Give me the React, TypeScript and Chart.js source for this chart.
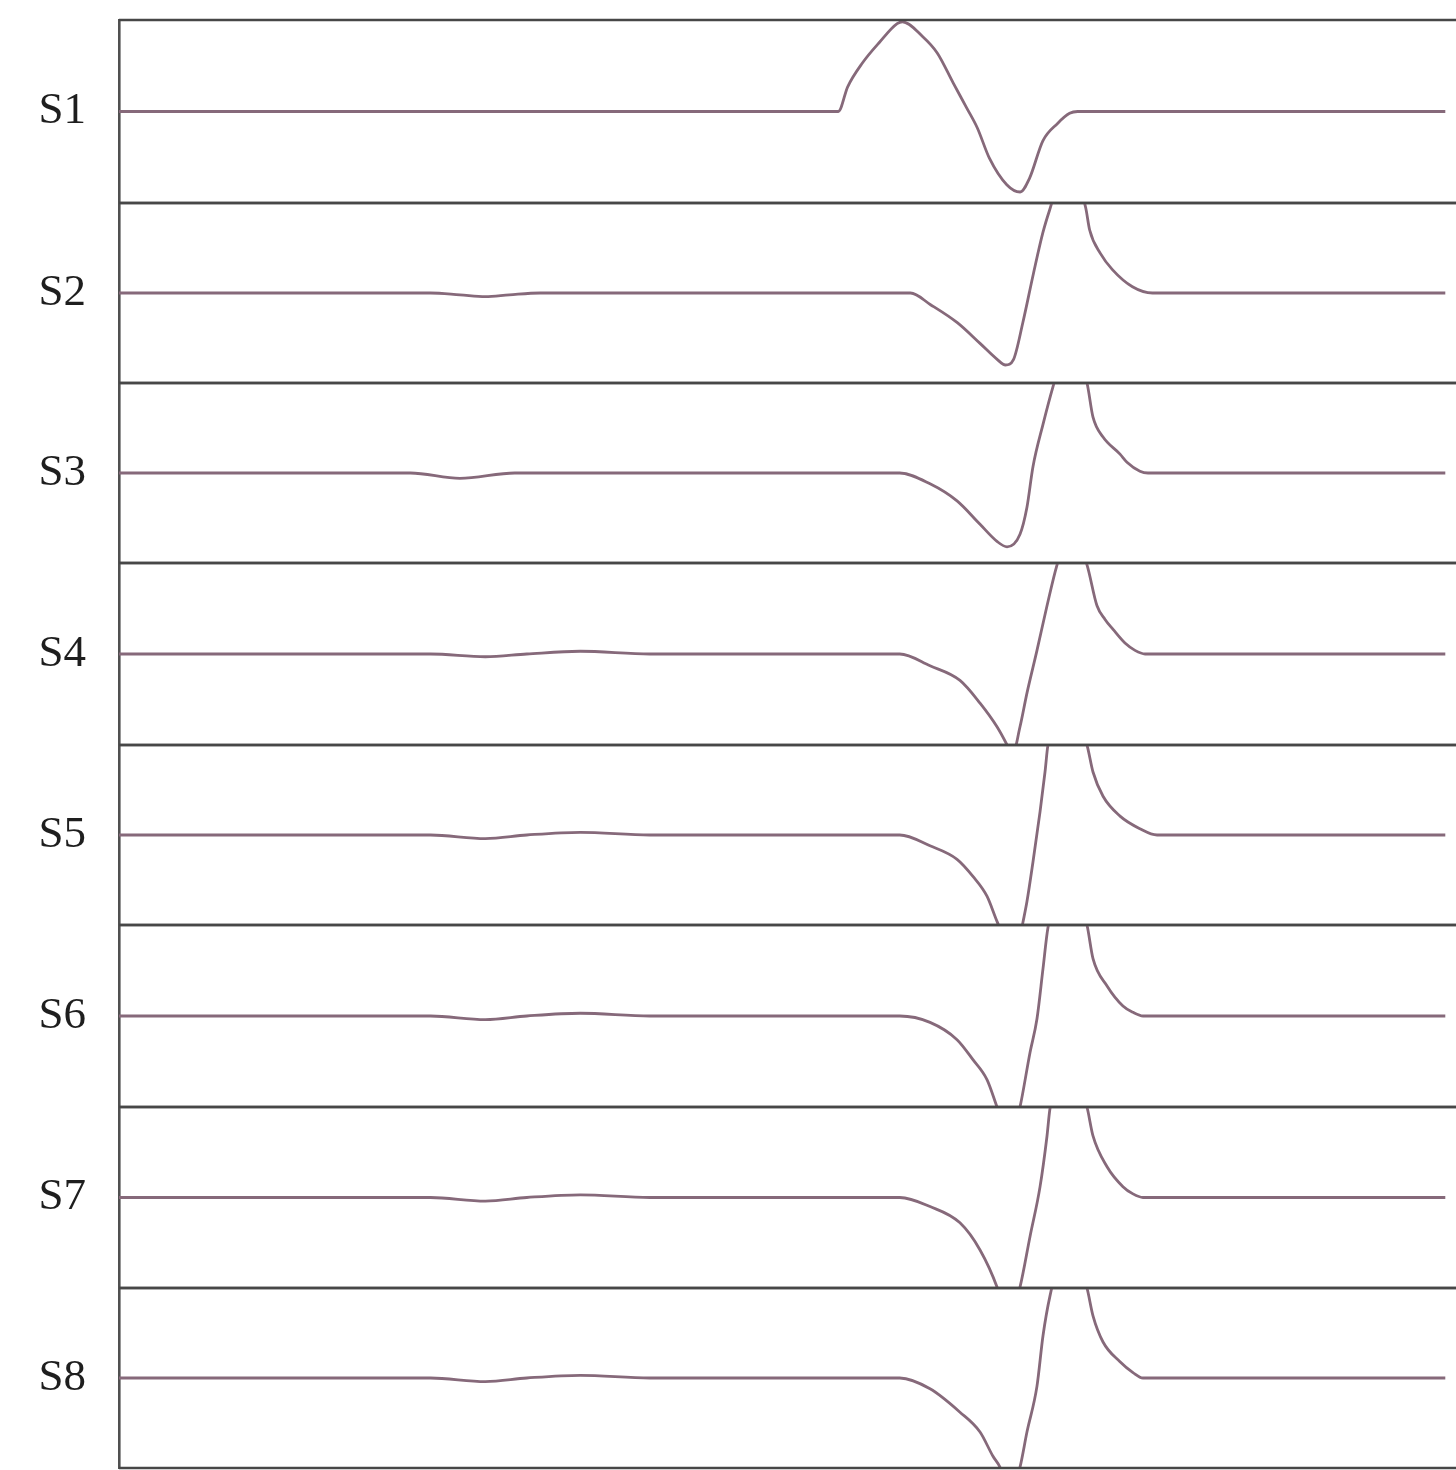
import React, { useEffect, useRef } from "react";
import { Chart, registerables } from "chart.js";

Chart.register(...registerables);

// ---- Data (time in % of sweep, amplitude in panel half-heights) ----
const LABELS = ["S1", "S2", "S3", "S4", "S5", "S6", "S7", "S8"];

const S1_T = [0, 53.8, 54.5, 55.6, 56.9, 58.2, 58.6, 60.1, 61.2, 62.4, 63.4, 64.2, 65.1, 66.4, 67.4, 68.1, 69.1, 70.2, 71.1, 71.7, 99.2];
const S1_V = [0, 0, 0.27, 0.53, 0.76, 0.96, 0.98, 0.82, 0.64, 0.31, 0.04, -0.18, -0.51, -0.8, -0.88, -0.73, -0.32, -0.13, -0.02, 0, 0];

const S2_T = [0, 23.3, 25.5, 27.4, 29.2, 31.5, 59.2, 60.7, 62.7, 64.4, 65.7, 66.3, 66.9, 67.6, 68.4, 69.1, 69.6, 71.0, 72.3, 72.6, 73.4, 74.3, 75.8, 77.3, 99.2];
const S2_V = [0, 0, -0.02, -0.04, -0.02, 0, 0, -0.13, -0.33, -0.56, -0.74, -0.8, -0.74, -0.33, 0.22, 0.67, 0.92, 1.5, 0.95, 0.7, 0.44, 0.26, 0.07, 0, 0];

const S3_T = [0, 21.8, 25.5, 29.6, 58.4, 60.66, 62.68, 64.4, 65.67, 66.42, 67.39, 67.91, 68.36, 69.11, 69.86, 71.0, 72.4, 72.85, 73.6, 74.87, 75.39, 76.36, 76.96, 99.2];
const S3_V = [0, 0, -0.06, 0, 0, -0.12, -0.31, -0.57, -0.76, -0.82, -0.68, -0.38, 0.07, 0.54, 0.96, 1.5, 1.0, 0.62, 0.4, 0.21, 0.12, 0.02, 0, 0];

const S4_T = [0, 23.3, 27.4, 30.5, 34.5, 39.7, 58.4, 60.66, 62.9, 64.4, 65.67, 66.42, 66.8, 67.39, 67.91, 68.66, 69.41, 70.16, 71.2, 72.4, 73.15, 73.75, 74.35, 75.24, 75.99, 76.74, 99.2];
const S4_V = [0, 0, -0.03, 0, 0.03, 0, 0, -0.13, -0.29, -0.54, -0.8, -1.0, -1.12, -0.8, -0.43, 0.04, 0.53, 0.98, 1.4, 0.98, 0.53, 0.38, 0.27, 0.12, 0.04, 0, 0];

const S5_T = [0, 23.3, 27.4, 30.5, 34.5, 39.7, 58.4, 60.66, 62.68, 63.87, 64.92, 65.67, 67.02, 67.61, 67.91, 68.36, 68.89, 69.26, 69.48, 71.0, 72.4, 72.85, 73.6, 74.87, 76.36, 77.64, 99.2];
const S5_V = [0, 0, -0.04, 0, 0.03, 0, 0, -0.12, -0.27, -0.46, -0.68, -0.96, -1.4, -0.97, -0.74, -0.3, 0.26, 0.7, 1.0, 1.5, 1.0, 0.7, 0.43, 0.21, 0.07, 0, 0];

const S6_T = [0, 23.3, 27.4, 30.5, 34.5, 39.7, 58.4, 60.66, 62.68, 63.87, 64.92, 65.67, 66.64, 67.39, 68.14, 68.66, 69.11, 69.48, 70.98, 72.4, 72.85, 73.9, 75.09, 75.84, 76.59, 99.2];
const S6_V = [0, 0, -0.04, 0, 0.03, 0, 0, -0.07, -0.26, -0.48, -0.7, -1.0, -1.4, -1.0, -0.4, -0.03, 0.52, 0.97, 1.6, 1.0, 0.63, 0.33, 0.11, 0.04, 0, 0];

const S7_T = [0, 23.3, 27.4, 30.5, 34.5, 39.7, 58.4, 60.66, 62.9, 64.4, 65.67, 66.5, 67.39, 68.14, 68.89, 69.41, 69.63, 70.98, 72.4, 72.85, 73.9, 75.09, 75.84, 76.59, 99.2];
const S7_V = [0, 0, -0.04, 0, 0.03, 0, 0, -0.1, -0.28, -0.58, -0.99, -1.4, -0.99, -0.43, 0.12, 0.68, 0.98, 1.6, 1.0, 0.68, 0.34, 0.12, 0.04, 0, 0];

const S8_T = [0, 23.3, 27.4, 30.5, 34.5, 39.7, 58.4, 60.66, 62.9, 64.4, 65.37, 65.89, 66.64, 67.39, 67.91, 68.66, 69.11, 69.63, 70.98, 72.4, 72.85, 73.6, 74.87, 75.84, 76.59, 99.2];
const S8_V = [0, 0, -0.04, 0, 0.03, 0, 0, -0.12, -0.38, -0.6, -0.87, -0.99, -1.3, -0.99, -0.6, -0.09, 0.47, 0.91, 1.6, 1.0, 0.69, 0.4, 0.18, 0.06, 0, 0];

const SERIES_T = [S1_T, S2_T, S3_T, S4_T, S5_T, S6_T, S7_T, S8_T];
const SERIES_V = [S1_V, S2_V, S3_V, S4_V, S5_V, S6_V, S7_V, S8_V];

// ---- Layout (panel boundaries in page px) ----
const BOUNDS = [20, 203, 383, 563, 745, 925, 1107, 1288, 1468];
const PAD = 4;
const WIDTH = 1456;
const AXIS_W = 119;
const LINE_COLOR = "#86697a";
const FRAME_COLOR = "#474747";

const framePlugin = {
  id: "panelFrame",
  afterDatasetsDraw(chart: any) {
    const { ctx, chartArea } = chart;
    ctx.save();
    ctx.strokeStyle = FRAME_COLOR;
    ctx.lineWidth = 2.4;
    ctx.beginPath();
    ctx.moveTo(chartArea.left, chartArea.top);
    ctx.lineTo(chartArea.right, chartArea.top);
    ctx.moveTo(chartArea.left, chartArea.bottom);
    ctx.lineTo(chartArea.right, chartArea.bottom);
    ctx.stroke();
    ctx.restore();
  },
};

function Panel({ index }: { index: number }) {
  const ref = useRef<HTMLCanvasElement>(null);
  const h = BOUNDS[index + 1] - BOUNDS[index] + PAD * 2;
  useEffect(() => {
    if (!ref.current) return;
    const data = SERIES_T[index].map((t, i) => ({ x: t, y: SERIES_V[index][i] }));
    const chart = new Chart(ref.current, {
      type: "line",
      data: {
        datasets: [
          {
            data,
            borderColor: LINE_COLOR,
            borderWidth: 2.8,
            pointRadius: 0,
            cubicInterpolationMode: "monotone",
            clip: 0,
          } as any,
        ],
      },
      options: {
        animation: false,
        responsive: false,
        events: [],
        layout: { padding: { top: PAD, bottom: PAD, left: 0, right: 0 } },
        plugins: { legend: { display: false }, tooltip: { enabled: false } },
        scales: {
          x: { type: "linear", min: 0, max: 100, display: false },
          y: {
            type: "linear",
            min: -1,
            max: 1,
            grid: { display: false, drawTicks: false },
            border: { display: true, color: "#505050", width: 2.6 },
            afterBuildTicks: (scale: any) => {
              scale.ticks = [{ value: 0 }];
            },
            afterFit: (scale: any) => {
              scale.width = AXIS_W;
              scale.paddingTop = 0;
              scale.paddingBottom = 0;
            },
            ticks: {
              autoSkip: false,
              padding: 33,
              color: "#1e1e1e",
              font: { family: '"Liberation Serif", "Times New Roman", serif', size: 45 },
              callback: () => LABELS[index],
            },
          },
        },
      },
      plugins: [framePlugin],
    });
    return () => chart.destroy();
  }, [index]);
  return (
    <canvas
      ref={ref}
      width={WIDTH}
      height={h}
      style={{ position: "absolute", left: 0, top: BOUNDS[index] - PAD, width: WIDTH, height: h }}
    />
  );
}

export default function App() {
  return (
    <div style={{ position: "absolute", left: 0, top: 0, width: WIDTH, height: 1470, background: "#fff" }}>
      {LABELS.map((_, i) => (
        <Panel key={i} index={i} />
      ))}
    </div>
  );
}
